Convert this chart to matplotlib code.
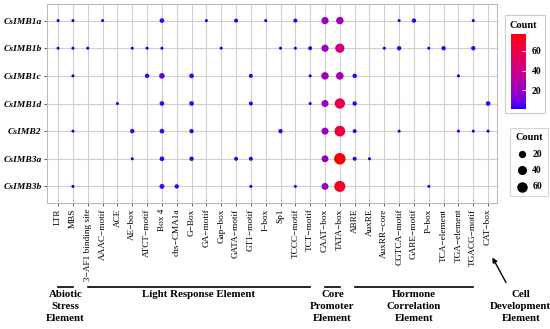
import matplotlib
matplotlib.use("Agg")
import matplotlib.pyplot as plt
import matplotlib.transforms as mtransforms
from matplotlib.colors import ListedColormap, Normalize
from matplotlib.patches import Rectangle
import numpy as np

plt.rcParams['font.family'] = ['Liberation Serif', 'DejaVu Serif']

genes = ["CsIMB1a", "CsIMB1b", "CsIMB1c", "CsIMB1d", "CsIMB2", "CsIMB3a", "CsIMB3b"]

elements = ["LTR", "MBS", "3−AF1 binding site", "AAAC−motif", "ACE", "AE−box",
            "ATCT−motif", "Box 4", "chs−CMA1a", "G−Box", "GA−motif", "Gap−box",
            "GATA−motif", "GT1−motif", "I−box", "Sp1", "TCCC−motif", "TCT−motif",
            "CAAT−box", "TATA−box", "ABRE", "AuxRE", "AuxRR−core", "CGTCA−motif",
            "GARE−motif", "P−box", "TCA−element", "TGA−element", "TGACG−motif", "CAT−box"]

# element counts per gene
imb1a = {"LTR": 1, "MBS": 1, "AAAC−motif": 1, "Box 4": 4, "GA−motif": 1, "GATA−motif": 2,
         "I−box": 1, "TCCC−motif": 2, "CAAT−box": 20, "TATA−box": 22, "CGTCA−motif": 1,
         "GARE−motif": 3, "TGACG−motif": 1}
imb1b = {"LTR": 1, "MBS": 1, "3−AF1 binding site": 1, "AE−box": 1, "ATCT−motif": 1,
         "Box 4": 1, "Gap−box": 1, "Sp1": 1, "TCCC−motif": 1, "TCT−motif": 2,
         "CAAT−box": 20, "TATA−box": 42, "AuxRR−core": 1, "CGTCA−motif": 3, "P−box": 1,
         "TCA−element": 3, "TGACG−motif": 3}
imb1c = {"MBS": 1, "ATCT−motif": 3, "Box 4": 8, "G−Box": 4, "GT1−motif": 2, "TCT−motif": 1,
         "CAAT−box": 22, "TATA−box": 24, "ABRE": 3, "TGA−element": 1}
imb1d = {"ACE": 1, "Box 4": 4, "G−Box": 4, "GT1−motif": 2, "TCT−motif": 1, "CAAT−box": 18,
         "TATA−box": 58, "ABRE": 3, "CAT−box": 4}
imb2 = {"MBS": 1, "AE−box": 3, "Box 4": 4, "G−Box": 3, "Sp1": 3, "CAAT−box": 18,
        "TATA−box": 64, "ABRE": 2, "CGTCA−motif": 1, "TGA−element": 1, "TGACG−motif": 1,
        "CAT−box": 1}
imb3a = {"AE−box": 1, "Box 4": 4, "G−Box": 3, "GATA−motif": 2, "GT1−motif": 2,
         "CAAT−box": 17, "TATA−box": 77, "ABRE": 2, "AuxRE": 1}
imb3b = {"MBS": 1, "Box 4": 5, "chs−CMA1a": 3, "GT1−motif": 1, "TCCC−motif": 1,
         "CAAT−box": 17, "TATA−box": 70, "P−box": 1}
counts = [imb1a, imb1b, imb1c, imb1d, imb2, imb3a, imb3b]

groups = ["Abiotic\nStress\nElement", "Light Response Element", "Core\nPromoter\nElement",
          "Hormone\nCorrelation\nElement"]
group_first = ["LTR", "3−AF1 binding site", "CAAT−box", "ABRE"]
group_last = ["MBS", "TCT−motif", "TATA−box", "TGACG−motif"]
cell_label = "Cell\nDevelopment\nElement"

size_breaks = [20, 40, 60]
color_ticks = [20, 40, 60]


def srgb_to_lab(c):
    c = np.asarray(c, float)
    lin = np.where(c <= 0.04045, c / 12.92, ((c + 0.055) / 1.055) ** 2.4)
    xyz = M_RGB @ lin / WHITE
    f = np.where(xyz > 0.008856, np.cbrt(xyz), 7.787 * xyz + 16 / 116)
    return np.array([116 * f[1] - 16, 500 * (f[0] - f[1]), 200 * (f[1] - f[2])])


def lab_to_srgb(lab):
    fy = (lab[0] + 16) / 116
    f = np.array([fy + lab[1] / 500, fy, fy - lab[2] / 200])
    xyz = np.where(f ** 3 > 0.008856, f ** 3, (f - 16 / 116) / 7.787) * WHITE
    lin = np.clip(np.linalg.inv(M_RGB) @ xyz, 0, None)
    c = np.where(lin <= 0.0031308, 12.92 * lin, 1.055 * lin ** (1 / 2.4) - 0.055)
    return np.clip(c, 0, 1)


M_RGB = np.array([[0.4124, 0.3576, 0.1805], [0.2126, 0.7152, 0.0722], [0.0193, 0.1192, 0.9505]])
WHITE = np.array([0.95047, 1.0, 1.08883])
lab_lo, lab_hi = srgb_to_lab([0, 0, 1]), srgb_to_lab([1, 0, 0])
cmap = ListedColormap([lab_to_srgb(lab_lo + t * (lab_hi - lab_lo)) for t in np.linspace(0, 1, 256)])

xs, ys, vals = [], [], []
for gi, row in enumerate(counts):
    for el, v in row.items():
        xs.append(elements.index(el))
        ys.append(gi)
        vals.append(v)
vals = np.array(vals, float)
vmin, vmax = vals.min(), vals.max()


def dot_area(v):
    d = 3 + 8.5 * np.sqrt((np.asarray(v, float) - vmin) / (vmax - vmin))  # pixels
    return (d * 0.72) ** 2


fig = plt.figure(figsize=(5.5, 3.29), dpi=100)
ax = fig.add_axes([47 / 550, 1 - 203 / 329, 450 / 550, 199 / 329])

sc = ax.scatter(xs, ys, s=dot_area(vals), c=vals, cmap=cmap, norm=Normalize(vmin, vmax),
                linewidths=0, zorder=3)

ax.set_xlim(-0.75, len(elements) - 0.4)
ax.set_ylim(len(genes) - 0.4, -0.6)
ax.set_xticks(range(len(elements)))
ax.set_xticklabels(elements, rotation=90, fontsize=6.7)
ax.set_yticks(range(len(genes)))
ax.set_yticklabels(genes, fontsize=6.8, fontweight='bold', fontstyle='italic')
ax.grid(True, color='#d0d0d0', lw=0.8, zorder=0)
ax.tick_params(length=2, width=0.6, color='#444444', pad=2)
for sp in ax.spines.values():
    sp.set_color('#bbbbbb')
    sp.set_linewidth(0.8)

# group brackets below the tick labels
trans = mtransforms.blended_transform_factory(ax.transData, fig.transFigure)
line_y = 1 - 287 / 329
text_y = 1 - 290 / 329
for name, a, b in zip(groups, group_first, group_last):
    i0, i1 = elements.index(a), elements.index(b)
    ax.plot([i0, i1], [line_y, line_y], color='black', lw=1.2, transform=trans, clip_on=False)
    ax.text((i0 + i1) / 2, text_y, name, transform=trans, ha='center', va='top',
            fontsize=7.8, fontweight='bold', linespacing=1.45)
ax.text(31.2, text_y, cell_label, transform=trans, ha='center', va='top',
        fontsize=7.8, fontweight='bold', linespacing=1.45)
ax.annotate("", xy=(29.2, 1 - 255 / 329), xycoords=trans,
            xytext=(30.3, 1 - 285 / 329), textcoords=trans,
            arrowprops=dict(arrowstyle='-|>', color='black', lw=1.0, mutation_scale=7))

# colour legend
fig.patches.append(Rectangle((505 / 550, 1 - 113 / 329), 40 / 550, 98 / 329,
                             transform=fig.transFigure, fill=False, ec='#cccccc', lw=0.8))
cax = fig.add_axes([511 / 550, 1 - 109 / 329, 15 / 550, 75 / 329])
cb = fig.colorbar(sc, cax=cax, ticks=color_ticks)
cb.outline.set_visible(False)
cax.tick_params(length=3, width=0.6, color='white', direction='in', labelsize=7, pad=4)
for lab in cax.get_yticklabels():
    lab.set_fontweight('bold')
fig.text(510 / 550, 1 - 25 / 329, "Count", fontsize=7.5, fontweight='bold', va='center')

# size legend
handles = [ax.scatter([], [], s=dot_area(b), color='black', linewidths=0) for b in size_breaks]
leg = fig.legend(handles, [str(b) for b in size_breaks], title="Count", loc='upper left',
                 bbox_to_anchor=(505 / 550, 1 - 123 / 329), frameon=True, fontsize=7,
                 title_fontproperties={'weight': 'bold', 'size': 7.5}, handletextpad=0.5,
                 labelspacing=0.75, borderpad=0.55, handlelength=1.2, fancybox=False)
leg.get_frame().set_edgecolor('#cccccc')
leg.get_frame().set_linewidth(0.8)
for t in leg.get_texts():
    t.set_fontweight('bold')

fig.savefig("out.png", dpi=100)
